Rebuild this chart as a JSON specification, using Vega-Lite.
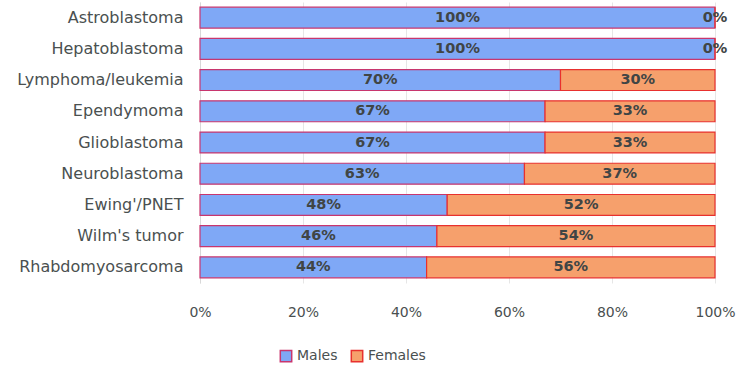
{
  "$schema": "https://vega.github.io/schema/vega-lite/v6.json",
  "autosize": "none",
  "width": 515,
  "height": 281,
  "padding": {"left": 200, "top": 2, "right": 32, "bottom": 91},
  "background": "white",
  "data": {
    "values": [
      {"tumor": "Astroblastoma", "sex": "Males", "pct": 100, "ord": 1},
      {"tumor": "Astroblastoma", "sex": "Females", "pct": 0, "ord": 2},
      {"tumor": "Hepatoblastoma", "sex": "Males", "pct": 100, "ord": 1},
      {"tumor": "Hepatoblastoma", "sex": "Females", "pct": 0, "ord": 2},
      {"tumor": "Lymphoma/leukemia", "sex": "Males", "pct": 70, "ord": 1},
      {"tumor": "Lymphoma/leukemia", "sex": "Females", "pct": 30, "ord": 2},
      {"tumor": "Ependymoma", "sex": "Males", "pct": 67, "ord": 1},
      {"tumor": "Ependymoma", "sex": "Females", "pct": 33, "ord": 2},
      {"tumor": "Glioblastoma", "sex": "Males", "pct": 67, "ord": 1},
      {"tumor": "Glioblastoma", "sex": "Females", "pct": 33, "ord": 2},
      {"tumor": "Neuroblastoma", "sex": "Males", "pct": 63, "ord": 1},
      {"tumor": "Neuroblastoma", "sex": "Females", "pct": 37, "ord": 2},
      {"tumor": "Ewing'/PNET", "sex": "Males", "pct": 48, "ord": 1},
      {"tumor": "Ewing'/PNET", "sex": "Females", "pct": 52, "ord": 2},
      {"tumor": "Wilm's tumor", "sex": "Males", "pct": 46, "ord": 1},
      {"tumor": "Wilm's tumor", "sex": "Females", "pct": 54, "ord": 2},
      {"tumor": "Rhabdomyosarcoma", "sex": "Males", "pct": 44, "ord": 1},
      {"tumor": "Rhabdomyosarcoma", "sex": "Females", "pct": 56, "ord": 2}
    ]
  },
  "transform": [
    {"stack": "pct", "groupby": ["tumor"], "sort": [{"field": "ord", "order": "ascending"}], "as": ["v0", "v1"]},
    {"calculate": "(datum.v0 + datum.v1) / 2", "as": "mid"},
    {"calculate": "datum.pct + '%'", "as": "label"}
  ],
  "encoding": {
    "y": {
      "field": "tumor",
      "type": "nominal",
      "sort": null,
      "title": null,
      "scale": {"paddingInner": 0.33, "paddingOuter": 0.165},
      "axis": {
        "ticks": false,
        "labelPadding": 17,
        "labelFont": "DejaVu Sans",
        "labelFontSize": 16,
        "labelColor": "#4a5050",
        "domainColor": "#d8d8d8",
        "grid": false
      }
    }
  },
  "layer": [
    {
      "mark": {"type": "bar", "strokeWidth": 1.2},
      "encoding": {
        "x": {
          "field": "v0",
          "type": "quantitative",
          "scale": {"domain": [0, 100], "nice": false},
          "title": null,
          "axis": {
            "values": [0, 20, 40, 60, 80, 100],
            "labelExpr": "datum.value + '%'",
            "labelFlush": false,
            "ticks": false,
            "domain": false,
            "labelPadding": 22,
            "labelFont": "DejaVu Sans",
            "labelFontSize": 14,
            "labelColor": "#4a5050",
            "gridColor": "#e6e6e6",
            "gridWidth": 1
          }
        },
        "x2": {"field": "v1"},
        "color": {
          "field": "sex",
          "type": "nominal",
          "sort": ["Males", "Females"],
          "scale": {"domain": ["Males", "Females"], "range": ["#7fa8f6", "#f6a06c"]},
          "title": null,
          "legend": {
            "orient": "none",
            "legendX": 79,
            "legendY": 347,
            "direction": "horizontal",
            "symbolType": "square",
            "symbolSize": 130,
            "symbolStrokeWidth": 1.5,
            "labelFont": "DejaVu Sans",
            "labelFontSize": 14,
            "labelColor": "#4a5050",
            "columnPadding": 10,
            "labelOffset": 4
          }
        },
        "stroke": {
          "field": "sex",
          "type": "nominal",
          "scale": {"domain": ["Males", "Females"], "range": ["#c8366e", "#e8302e"]},
          "legend": null
        }
      }
    },
    {
      "mark": {"type": "text", "font": "DejaVu Sans", "fontSize": 14.5, "fontWeight": "bold", "color": "#404545", "baseline": "middle", "align": "center"},
      "encoding": {
        "x": {"field": "mid", "type": "quantitative"},
        "text": {"field": "label"}
      }
    }
  ],
  "config": {"view": {"stroke": null}}
}
